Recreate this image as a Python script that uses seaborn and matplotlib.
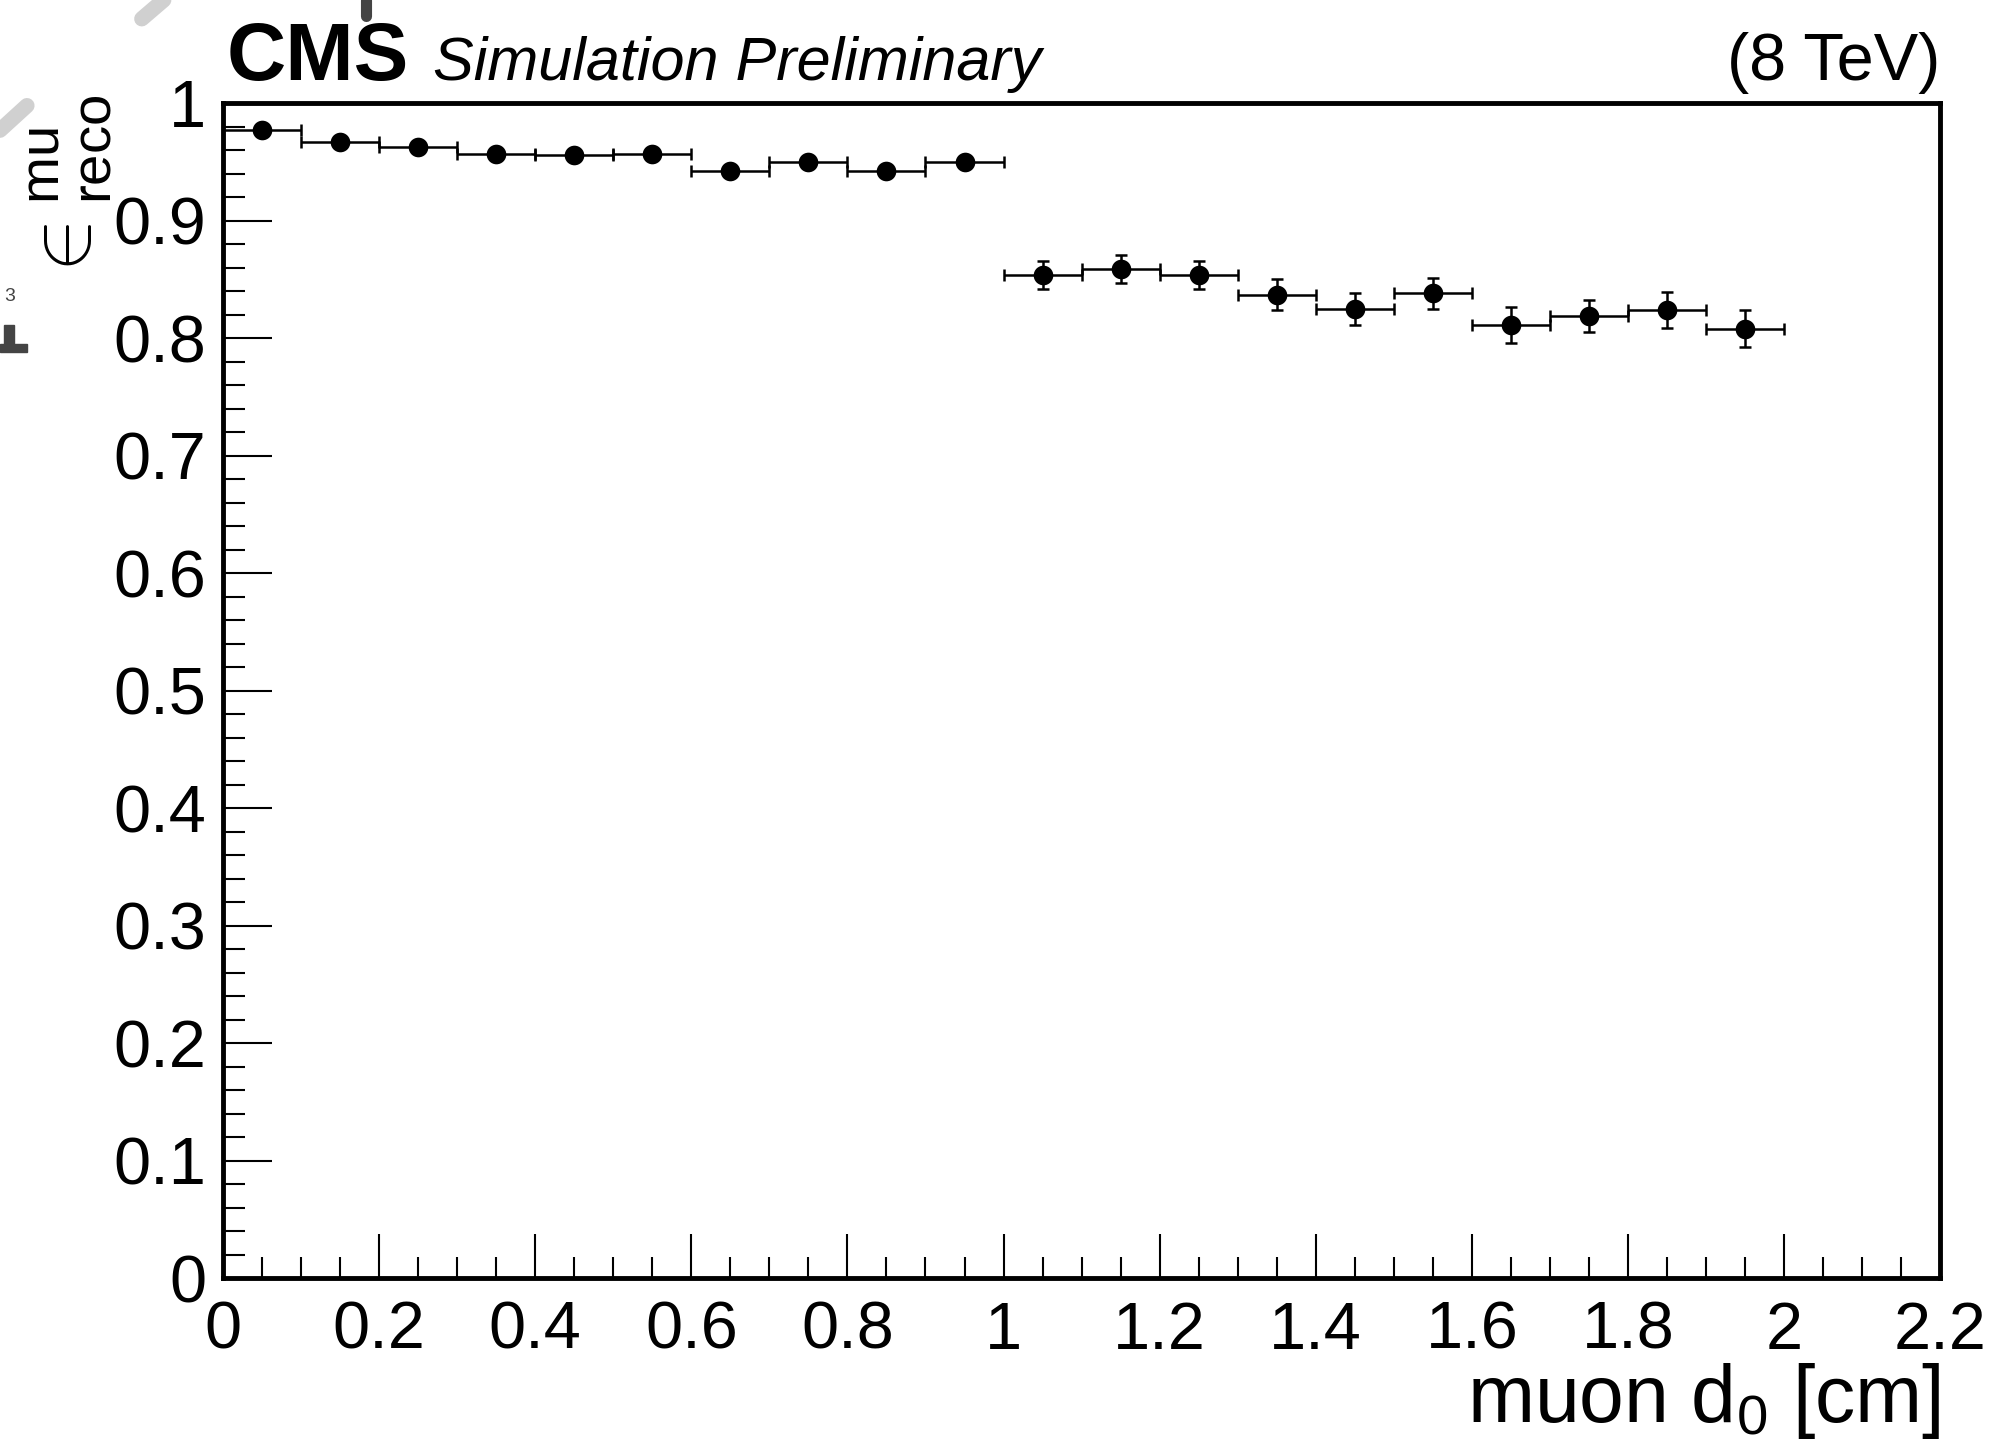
import matplotlib
matplotlib.use('Agg')
import matplotlib.pyplot as plt
import matplotlib.lines as mlines
import matplotlib.patches as mpatches
import numpy as np
import pandas as pd
import seaborn as sns
from matplotlib.ticker import MultipleLocator

# ----------------- data -----------------
bin_centres = [0.05, 0.15, 0.25, 0.35, 0.45, 0.55, 0.65, 0.75, 0.85, 0.95,
               1.05, 1.15, 1.25, 1.35, 1.45, 1.55, 1.65, 1.75, 1.85, 1.95]
bin_half_width = [0.05] * 20
efficiency = [0.977, 0.967, 0.963, 0.957, 0.956, 0.957, 0.942, 0.950, 0.942, 0.950,
              0.854, 0.859, 0.854, 0.837, 0.825, 0.838, 0.811, 0.819, 0.824, 0.808]
eff_error = [0.002, 0.002, 0.002, 0.002, 0.002, 0.002, 0.002, 0.002, 0.002, 0.002,
             0.012, 0.012, 0.012, 0.0135, 0.0135, 0.0135, 0.0155, 0.0135, 0.015, 0.0155]
x_ticklabels = ['0', '0.2', '0.4', '0.6', '0.8', '1', '1.2', '1.4', '1.6', '1.8', '2', '2.2']
y_ticklabels = ['0', '0.1', '0.2', '0.3', '0.4', '0.5', '0.6', '0.7', '0.8', '0.9', '1']

df = pd.DataFrame({'d0': bin_centres, 'eff': efficiency,
                   'xerr': bin_half_width, 'yerr': eff_error})

# ----------------- style -----------------
sns.set_theme(style='white')
plt.rcParams['font.family'] = ['Liberation Sans', 'DejaVu Sans']
plt.rcParams['mathtext.fontset'] = 'custom'
plt.rcParams['mathtext.rm'] = 'Liberation Sans'
plt.rcParams['mathtext.it'] = 'Liberation Sans:italic'
plt.rcParams['text.color'] = 'black'
plt.rcParams['xtick.color'] = 'black'
plt.rcParams['ytick.color'] = 'black'

fig = plt.figure(figsize=(19.97, 14.47), dpi=100)
ax = fig.add_axes([0.1117, 0.1165, 0.8598, 0.8123])

# error bars like ROOT E1 (bin width + stat error, small caps)
ax.errorbar(df['d0'], df['eff'], xerr=df['xerr'], yerr=df['yerr'], fmt='none',
            ecolor='black', elinewidth=1.8, capsize=4.5, capthick=1.8, zorder=2)
sns.scatterplot(data=df, x='d0', y='eff', ax=ax, color='black', s=200,
                edgecolor='black', linewidth=0, zorder=3, legend=False)

ax.set_xlim(0, 2.2)
ax.set_ylim(0, 1)
ax.set_xticks(np.arange(0, 2.21, 0.2))
ax.set_xticklabels(x_ticklabels)
ax.set_yticks(np.arange(0, 1.01, 0.1))
ax.set_yticklabels(y_ticklabels)
ax.xaxis.set_minor_locator(MultipleLocator(0.05))
ax.yaxis.set_minor_locator(MultipleLocator(0.02))

ax.tick_params(which='both', direction='in', top=False, right=False,
               bottom=True, left=True, color='black', width=1.5)
ax.tick_params(axis='y', which='major', length=35, pad=12, labelsize=48)
ax.tick_params(axis='y', which='minor', length=16)
ax.tick_params(axis='x', which='major', length=32, pad=16, labelsize=48)
ax.tick_params(axis='x', which='minor', length=15)
for sp in ax.spines.values():
    sp.set_color('black')
    sp.set_linewidth(3.5)
ax.set_xlabel('')
ax.set_ylabel('')

# axis titles
ax.text(1.0, -0.122, r'muon d$_{\mathrm{0}}$ [cm]', transform=ax.transAxes,
        ha='right', va='baseline', fontsize=58)
fig.text(0.0355, 0.935, r'${\in}^{\mathrm{mu}}_{\mathrm{reco}}$', rotation=90,
         ha='center', va='top', fontsize=58)

# header
ax.text(0.002, 1.02, 'CMS', transform=ax.transAxes, ha='left', va='baseline',
        fontsize=59, fontweight='bold')
ax.text(0.122, 1.02, 'Simulation Preliminary', transform=ax.transAxes, ha='left',
        va='baseline', fontsize=44, fontstyle='italic')
ax.text(1.0, 1.02, '(8 TeV)', transform=ax.transAxes, ha='right', va='baseline',
        fontsize=48)

# faint scan remnants round the top-left corner
fig.add_artist(mlines.Line2D([0.0, 0.0135], [0.91, 0.927], color='#d0d0d0', lw=11))
fig.add_artist(mlines.Line2D([0.071, 0.082], [0.987, 1.0], color='#d0d0d0', lw=11))
fig.add_artist(mlines.Line2D([0.1835, 0.1835], [0.989, 1.0], color='#444444', lw=8))
fig.add_artist(mpatches.Rectangle((0.0, 1 - 352 / 1447), 27 / 1997, 8 / 1447,
                                  transform=fig.transFigure, color='#444444'))
fig.add_artist(mpatches.Rectangle((4 / 1997, 1 - 345 / 1447), 10 / 1997, 20 / 1447,
                                  transform=fig.transFigure, color='#444444'))
fig.text(10 / 1997, 1 - 305 / 1447, '3', ha='center', va='bottom', fontsize=14,
         color='#444444')

fig.savefig('out.png', dpi=100)
